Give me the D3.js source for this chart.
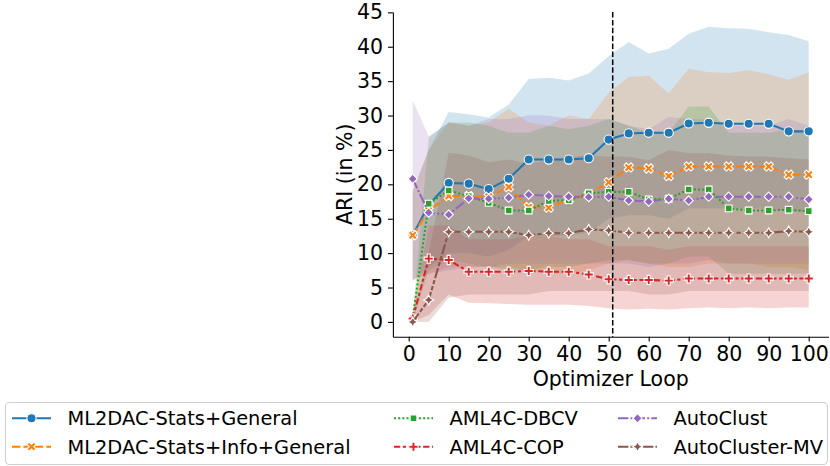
<!DOCTYPE html>
<html>
<head>
<meta charset="utf-8">
<script src="https://cdn.jsdelivr.net/npm/d3@7/dist/d3.min.js"></script>
<style>
  body { margin: 0; background: #fff; }
  svg { font-family: "DejaVu Sans", sans-serif; }
</style>
</head>
<body>
<svg id="chart" width="830" height="466"></svg>
<script>
// optimizer loop steps
var loops = [1, 5, 10, 15, 20, 25, 30, 35, 40, 45, 50, 55, 60, 65, 70, 75, 80, 85, 90, 95, 100];
var xTicks = [0, 10, 20, 30, 40, 50, 60, 70, 80, 90, 100];
var yTicks = [0, 5, 10, 15, 20, 25, 30, 35, 40, 45];
var warmStartLoop = 51;

var names = ["ML2DAC-Stats+General", "ML2DAC-Stats+Info+General", "AML4C-DBCV",
             "AML4C-COP", "AutoClust", "AutoCluster-MV"];

// mean ARI per loop
var statsGeneral     = [12.6, 17.0, 20.2, 20.1, 19.3, 20.8, 23.6, 23.6, 23.6, 23.8, 26.5, 27.4, 27.5, 27.5, 28.85, 28.95, 28.8, 28.8, 28.8, 27.7, 27.7];
var statsInfoGeneral = [12.6, 16.2, 18.3, 18.3, 18.2, 19.6, 16.7, 16.6, 17.8, 18.5, 20.3, 22.45, 22.3, 21.2, 22.6, 22.6, 22.6, 22.6, 22.6, 21.4, 21.4];
var dbcv             = [0.5, 17.2, 19.1, 18.3, 17.3, 16.2, 16.2, 17.6, 17.7, 18.7, 18.9, 18.9, 17.8, 17.9, 19.25, 19.25, 16.5, 16.2, 16.2, 16.3, 16.1];
var cop              = [0.5, 9.2, 9.0, 7.3, 7.3, 7.3, 7.4, 7.3, 7.3, 6.9, 6.2, 6.1, 6.1, 6.0, 6.3, 6.3, 6.3, 6.3, 6.3, 6.3, 6.3];
var autoClust        = [20.8, 15.9, 15.6, 17.95, 17.9, 18.05, 18.5, 18.3, 18.2, 18.15, 18.2, 17.65, 17.5, 17.9, 17.65, 18.2, 18.2, 18.2, 18.2, 18.2, 17.8];
var autoClusterMV    = [0.0, 3.2, 13.1, 13.1, 13.1, 13.1, 12.6, 12.9, 12.9, 13.45, 13.3, 12.95, 12.95, 12.95, 12.95, 12.95, 12.95, 12.95, 12.95, 13.2, 13.1];

// confidence band bounds
var statsGeneralLo     = [6.0, 8.0, 10.0, 10.0, 9.5, 10.5, 12.5, 12.5, 12.5, 13.0, 15.0, 15.5, 15.5, 15.0, 16.5, 16.5, 16.5, 16.5, 16.5, 16.0, 16.0];
var statsGeneralHi     = [19.0, 25.0, 30.5, 30.2, 29.7, 31.6, 35.3, 35.5, 35.1, 36.1, 38.6, 40.7, 39.0, 39.7, 41.9, 42.9, 42.7, 42.6, 42.1, 41.7, 40.8];
var statsInfoGeneralLo = [6.0, 7.0, 8.0, 8.0, 8.0, 8.0, 7.5, 7.0, 7.0, 7.5, 8.5, 9.0, 8.5, 8.0, 8.0, 8.5, 8.5, 8.5, 8.0, 8.0, 7.5];
var statsInfoGeneralHi = [19.0, 25.0, 29.0, 28.5, 29.0, 31.0, 29.0, 28.5, 30.0, 29.5, 33.3, 35.6, 35.8, 33.2, 36.8, 36.3, 36.2, 36.6, 36.0, 35.2, 36.3];
var dbcvLo             = [0.0, 7.5, 9.0, 8.5, 8.0, 7.5, 7.5, 8.0, 8.0, 8.5, 9.0, 9.0, 8.5, 8.5, 9.5, 9.5, 7.0, 7.0, 7.0, 7.0, 7.0];
var dbcvHi             = [1.0, 26.8, 29.0, 29.0, 28.5, 27.5, 27.5, 28.5, 28.0, 28.5, 29.5, 28.5, 27.5, 27.5, 31.3, 31.3, 27.5, 27.5, 27.5, 28.0, 27.5];
var copLo              = [0.0, 1.0, 4.0, 2.8, 2.7, 2.6, 2.5, 2.5, 2.5, 2.3, 2.0, 1.8, 1.9, 1.8, 2.0, 2.1, 2.0, 2.1, 2.0, 2.1, 2.1];
var copHi              = [1.5, 14.0, 14.0, 12.0, 12.0, 12.0, 12.5, 12.5, 12.0, 12.0, 11.0, 11.0, 11.0, 10.5, 11.0, 11.0, 11.0, 11.0, 11.0, 11.0, 11.0];
var autoClustLo        = [6.2, 7.0, 7.5, 8.0, 8.0, 8.5, 8.5, 8.5, 8.5, 8.5, 8.5, 8.5, 8.0, 8.5, 8.5, 9.0, 8.5, 8.5, 8.5, 8.5, 8.5];
var autoClustHi        = [32.2, 27.0, 29.0, 28.5, 29.5, 29.5, 30.0, 30.0, 29.5, 29.5, 29.5, 28.5, 28.0, 29.8, 29.5, 29.5, 28.5, 28.5, 28.5, 29.5, 28.5];
var autoClusterMVLo    = [0.0, 0.0, 3.5, 4.0, 4.0, 4.0, 4.0, 4.5, 4.5, 4.5, 4.5, 4.5, 4.0, 4.0, 4.5, 4.5, 4.5, 4.5, 4.5, 4.5, 4.5];
var autoClusterMVHi    = [0.5, 10.0, 24.6, 24.2, 23.2, 23.6, 23.0, 23.5, 24.0, 24.2, 24.0, 24.0, 23.5, 25.0, 24.5, 24.5, 24.2, 24.0, 24.0, 23.8, 23.6];

var means = [statsGeneral, statsInfoGeneral, dbcv, cop, autoClust, autoClusterMV];
var lows  = [statsGeneralLo, statsInfoGeneralLo, dbcvLo, copLo, autoClustLo, autoClusterMVLo];
var highs = [statsGeneralHi, statsInfoGeneralHi, dbcvHi, copHi, autoClustHi, autoClusterMVHi];

var colors = ["#1f77b4", "#ff7f0e", "#2ca02c", "#d62728", "#9467bd", "#8c564b"];
var lw = 2.08;
var dashes = [null, [4, 1.5], [1, 1], [3, 1.25, 1.5, 1.25], [5, 1, 1, 1], [5, 1, 2, 1, 2, 1]];
var markerKinds = ["circle", "x", "square", "plus", "diamond", "star"];

var svg = d3.select("#chart");
var margin = {left: 392.9, right: 828.5, top: 12, bottom: 336.7};

var x = d3.scaleLinear().domain([-3.95, 104.95]).range([margin.left, margin.right]);
var y = d3.scaleLinear().domain([-2.15, 45.05]).range([margin.bottom, margin.top]);

// marker shapes (size = 9px)
function markerPath(kind, s) {
  var h = s / 2, pts;
  if (kind == "circle") {
    return d3.path();
  }
  if (kind == "x") {
    pts = [[-1,-2],[0,-1],[1,-2],[2,-1],[1,0],[2,1],[1,2],[0,1],[-1,2],[-2,1],[-1,0],[-2,-1]].map(function(p){ return [p[0]*s/4, p[1]*s/4]; });
  } else if (kind == "plus") {
    pts = [[-1,-3],[1,-3],[1,-1],[3,-1],[3,1],[1,1],[1,3],[-1,3],[-1,1],[-3,1],[-3,-1],[-1,-1]].map(function(p){ return [p[0]*s/6, p[1]*s/6]; });
  } else if (kind == "square") {
    var a = h * Math.SQRT1_2;
    pts = [[-a,-a],[a,-a],[a,a],[-a,a]];
  } else if (kind == "diamond") {
    pts = [[0,-h],[h,0],[0,h],[-h,0]];
  } else {
    var r = h * 0.5 * Math.SQRT1_2;
    pts = [[0,-h],[r,-r],[h,0],[r,r],[0,h],[-r,r],[-h,0],[-r,-r]];
  }
  return "M" + pts.map(function(p){ return p[0].toFixed(2) + "," + p[1].toFixed(2); }).join("L") + "Z";
}

function drawMarker(g, kind, cx, cy, color) {
  if (kind == "circle") {
    g.append("circle").attr("cx", cx).attr("cy", cy).attr("r", 4.6)
      .attr("fill", color).attr("stroke", "#fff").attr("stroke-width", 1.1);
  } else {
    var size = kind == "square" ? 9.5 : (kind == "star" ? 10 : 9.2);
    g.append("path").attr("d", markerPath(kind, size))
      .attr("transform", "translate(" + cx + "," + cy + ")")
      .attr("fill", color).attr("stroke", "#fff").attr("stroke-width", 1.1)
      .attr("stroke-linejoin", "miter");
  }
}

// bands
var area = d3.area()
  .x(function(d) { return x(d.x); })
  .y0(function(d) { return y(d.lo); })
  .y1(function(d) { return y(d.hi); });

means.forEach(function(m, k) {
  var rows = loops.map(function(l, i) { return {x: l, lo: lows[k][i], hi: highs[k][i]}; });
  svg.append("path").datum(rows).attr("d", area)
    .attr("fill", colors[k]).attr("fill-opacity", 0.2).attr("stroke", "none");
});

// axes
var xAxis = svg.append("g")
  .attr("transform", "translate(0," + margin.bottom + ")")
  .call(d3.axisBottom(x).tickValues(xTicks).tickSize(4.9).tickPadding(4.9).tickSizeOuter(0));
var yAxis = svg.append("g")
  .attr("transform", "translate(" + margin.left + ",0)")
  .call(d3.axisLeft(y).tickValues(yTicks).tickSize(4.9).tickPadding(4.9).tickSizeOuter(0));

[xAxis, yAxis].forEach(function(a) {
  a.selectAll("path.domain").attr("stroke", "#000").attr("stroke-width", 1.1);
  a.selectAll(".tick line").attr("stroke", "#000").attr("stroke-width", 1.1);
  a.selectAll(".tick text").attr("fill", "#000")
    .attr("font-family", "DejaVu Sans").attr("font-size", 20.5);
});
xAxis.selectAll(".tick text").attr("dy", "0.71em");

svg.append("text")
  .attr("x", (margin.left + margin.right) / 2).attr("y", 385.5)
  .attr("text-anchor", "middle").attr("font-size", 20.5)
  .text("Optimizer Loop");

svg.append("text")
  .attr("transform", "translate(352," + ((margin.top + margin.bottom) / 2) + ") rotate(-90)")
  .attr("text-anchor", "middle").attr("font-size", 20.5)
  .text("ARI (in %)");

// lines + markers
means.forEach(function(m, k) {
  var rows = loops.map(function(l, i) { return {x: l, v: m[i]}; });
  var line = d3.line().x(function(d) { return x(d.x); }).y(function(d) { return y(d.v); });
  var g = svg.append("g");
  var p = g.append("path").datum(rows).attr("d", line)
    .attr("fill", "none").attr("stroke", colors[k]).attr("stroke-width", lw)
    .attr("stroke-linejoin", "round").attr("stroke-linecap", dashes[k] ? "butt" : "round");
  if (dashes[k]) p.attr("stroke-dasharray", dashes[k].map(function(v) { return v * lw; }).join(","));
  rows.forEach(function(d) { drawMarker(g, markerKinds[k], x(d.x), y(d.v), colors[k]); });
});

// warm start marker line
svg.append("line")
  .attr("x1", x(warmStartLoop)).attr("x2", x(warmStartLoop))
  .attr("y1", margin.top).attr("y2", margin.bottom)
  .attr("stroke", "#000").attr("stroke-width", 1.5)
  .attr("stroke-dasharray", "5.5,2.4");

// legend
var legend = svg.append("g");
legend.append("rect")
  .attr("x", 5.5).attr("y", 402.5).attr("width", 822).attr("height", 62)
  .attr("rx", 4).attr("fill", "#fff").attr("fill-opacity", 0.8)
  .attr("stroke", "#d0d0d0").attr("stroke-width", 1.1);

var colX = [12, 394, 618];
var rowY = [418.3, 446.7];
names.forEach(function(name, k) {
  var cx = colX[Math.floor(k / 2)], cy = rowY[k % 2];
  var item = legend.append("g");
  var l = item.append("line").attr("x1", cx).attr("x2", cx + 39).attr("y1", cy).attr("y2", cy)
    .attr("stroke", colors[k]).attr("stroke-width", lw);
  if (dashes[k]) l.attr("stroke-dasharray", dashes[k].map(function(v) { return v * lw; }).join(","));
  drawMarker(item, markerKinds[k], cx + 19.5, cy, colors[k]);
  item.append("text").attr("x", cx + 55.5).attr("y", cy).attr("dy", "0.36em")
    .attr("font-size", 19.4).text(name);
});
</script>
</body>
</html>
